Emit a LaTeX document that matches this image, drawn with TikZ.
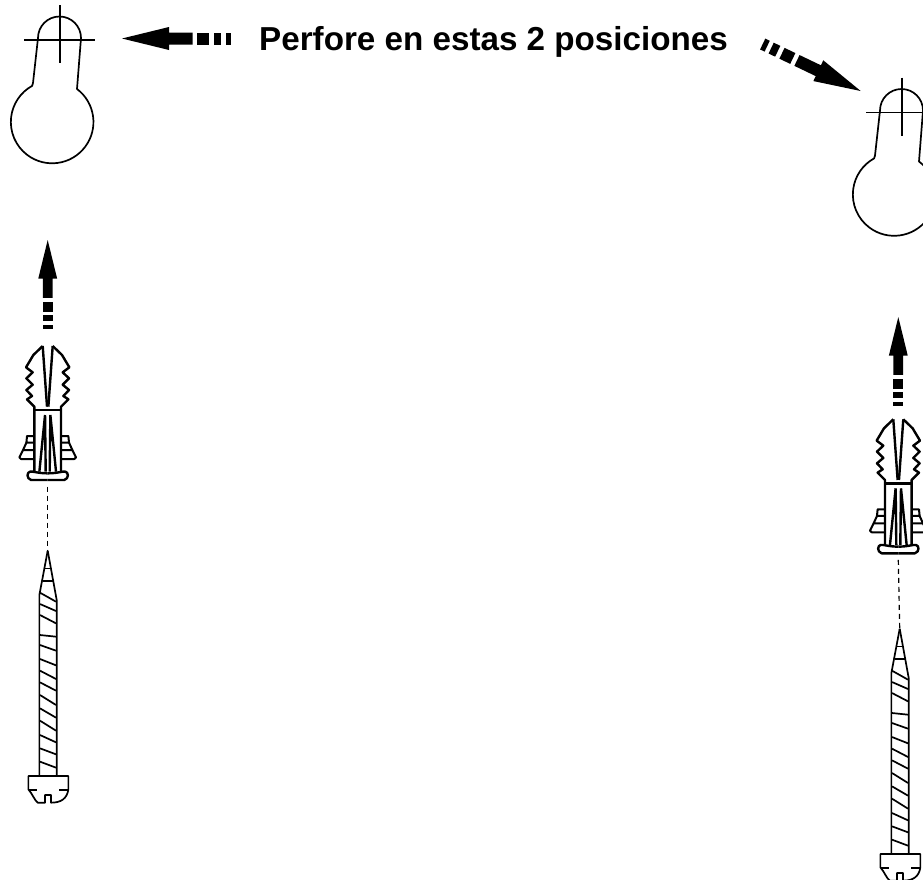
\documentclass[tikz,border=0pt]{standalone}
\usepackage{fontspec}
\setmainfont{Liberation Sans}
\usetikzlibrary{positioning}

\tikzset{caption/.style = {font=\fontsize{33.2}{40}\selectfont\bfseries,inner sep=0pt}}
\tikzset{outline/.style = {draw=black,line width=1.7pt,line join=round}}
\tikzset{plugline/.style = {draw=black,line width=2.4pt,line join=round}}
\tikzset{thinline/.style = {draw=black,line width=1.1pt}}
\tikzset{guide/.style = {draw=black,line width=1.2pt,dash pattern=on 5pt off 4pt}}
% tip of the arrow is at the origin
\tikzset{blockarrow/.pic = {
	\fill[black] (0,0) -- (-47,-11.5) -- (-47,-6) -- (-70.7,-6) -- (-70.7,6) -- (-47,6) -- (-47,11.5) -- cycle;
	\fill[black] (-75.3,-6) rectangle (-87.3,6);
	\fill[black] (-92,-6) rectangle (-99.3,6);
	\fill[black] (-103.7,-6) rectangle (-108.7,6);
}}
% origin on the cross
\tikzset{keyhole/.pic = {
	\draw[thinline] (-36,0) -- (35,0);
	\draw[thinline] (0,-35) -- (0,23);
	\draw[outline] (-22,-2) arc[start angle=180,end angle=360,radius=21.5] -- (17,49)
		arc[start angle=-53,end angle=241,radius=41.3] -- (-27,43) -- cycle;
}}
% origin at the top of the body, units are a third of a pixel
\tikzset{plug/.pic = {
	\begin{scope}[scale=.3333]
	\coordinate (-end) at (0,230);
	\foreach \flip in {1,-1}{
		\begin{scope}[xscale=\flip]
		\draw[plugline] (-15,-192) -- (-43,-165) -- (-65,-128) -- (-45,-113) -- (-64,-95) -- (-45,-76) -- (-64,-60) -- (-47,-42) -- (-62,-32) -- (-40,-10) -- (-40,185);
		\draw[plugline] (-15,-192) -- (-2,-10);
		\draw[plugline] (-40,0) -- (0,0);
		\draw[plugline] (-8,15) -- (-25,185) (-8,15) -- (-6,185);
		\draw[outline,line width=2pt] (-40,78) -- (-62,78) -- (-64,98) -- (-40,98);
		\draw[outline,line width=2pt] (-64,98) -- (-74,120) -- (-40,120);
		\draw[outline,line width=2pt] (-74,120) -- (-85,142) -- (-80,147) -- (-40,147);
		\draw[plugline] (0,190) .. controls (-30,190) and (-45,183) .. (-53,185) .. controls (-62,186) and (-65,205) .. (-50,210) -- (0,210);
		\end{scope}
	}
	\end{scope}
}}
% origin at the middle of the head top, units are a third of a pixel
\tikzset{screw/.pic = {
	\begin{scope}[scale=.3333]
	\coordinate (-tip) at (0,-676);
	\draw[outline] (0,-676) -- (-25,-543) -- (-25,0);
	\draw[outline] (0,-676) -- (27,-528) -- (27,0);
	\draw[outline] (-8,-623) -- (7,-623) (-15,-585) -- (17,-585);
	\foreach \ya/\yb in {338/365,372/393,405/430,465/470,495/512,537/556,572/597,607/632,645/675,685/713,722/752,765/787,805/823,845/863}{
		\draw[outline] (-23,\ya-888) -- (25,\yb-888);
	}
	\draw[outline] (-58,0) -- (62,0) -- (62,40) .. controls (58,68) and (40,80) .. (10,80) -- (10,57) -- (-8,57) -- (-8,80) -- (-30,80) .. controls (-40,72) and (-45,55) .. (-58,40) -- cycle;
	\draw[outline] (-55,42) -- (-33,42) (35,42) -- (62,42);
	\end{scope}
}}

\begin{document}
\begin{tikzpicture}[x=1pt,y=-1pt]
	\useasboundingbox (0,0) rectangle (923,879);
	% text
	\node[caption,anchor=base west] (note) at (259,50) {Perfore en estas 2 posiciones};
	% left column
	\pic (holeL) at (60,40) {keyhole};
	\pic[rotate=180] (arrowL) at (122,38.5) {blockarrow};
	\pic[rotate=90,scale=.82] (arrowLup) at (47.7,240) {blockarrow};
	\pic (plugL) at (47.7,410) {plug};
	\pic (screwL) at (47.7,776) {screw};
	% right column
	\pic (holeR) at (902,112.5) {keyhole};
	\pic[rotate=-25.6] (arrowR) at (860.7,91) {blockarrow};
	\pic[rotate=90,scale=.82] (arrowRup) at (898.3,317) {blockarrow};
	\pic (plugR) at (898.3,483.3) {plug};
	\pic (screwR) at (899.7,854) {screw};
	% guides
	\draw[guide] (plugL-end) -- (screwL-tip);
	\draw[guide] (plugR-end) -- (screwR-tip);
\end{tikzpicture}
\end{document}
